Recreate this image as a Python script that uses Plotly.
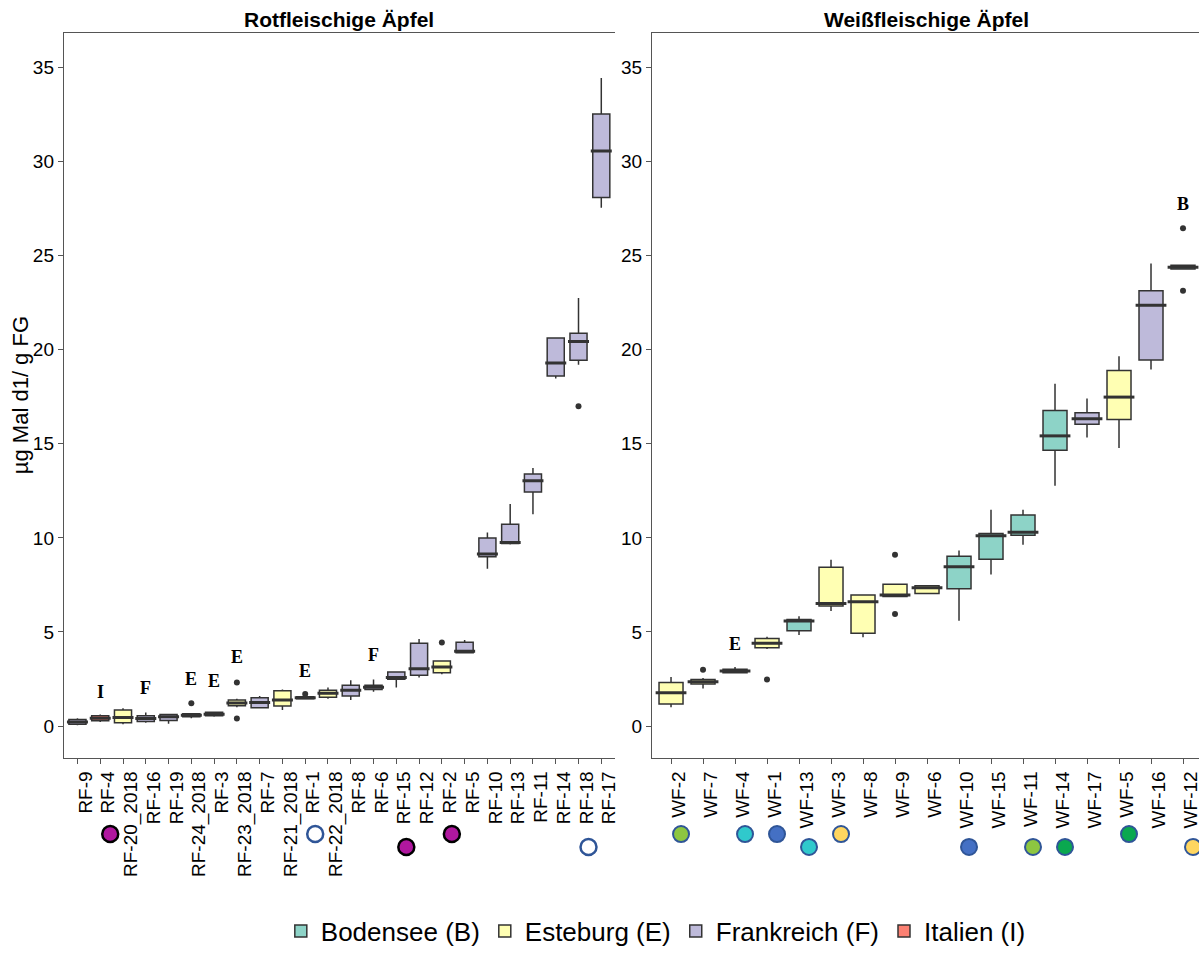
import plotly.graph_objects as go

# ---------------- data ----------------
rf_cats = ["RF-9", "RF-4", "RF-20_2018", "RF-16", "RF-19", "RF-24_2018", "RF-3", "RF-23_2018",
           "RF-7", "RF-21_2018", "RF-1", "RF-22_2018", "RF-8", "RF-6", "RF-15", "RF-12", "RF-2",
           "RF-5", "RF-10", "RF-13", "RF-11", "RF-14", "RF-18", "RF-17"]
rf_group = ["F", "I", "E", "F", "F", "E", "E", "E", "F", "E", "E", "E", "F", "F", "F", "F", "E",
            "F", "F", "F", "F", "F", "F", "F"]
rf_low = [0.05, 0.22, 0.10, 0.18, 0.12, 0.42, 0.50, 1.00, 0.95, 0.86, 1.42, 1.45, 1.38, 1.82,
          2.05, 2.58, 2.75, 3.88, 8.36, 9.65, 11.26, 18.47, 19.20, 27.54]
rf_q1 = [0.10, 0.28, 0.18, 0.25, 0.30, 0.50, 0.55, 1.08, 0.98, 1.07, 1.45, 1.53, 1.60, 1.95,
         2.49, 2.70, 2.84, 3.90, 9.00, 9.70, 12.44, 18.60, 19.44, 28.08]
rf_med = [0.22, 0.42, 0.45, 0.40, 0.50, 0.58, 0.63, 1.23, 1.25, 1.38, 1.50, 1.74, 1.91, 2.07,
          2.58, 3.05, 3.14, 3.98, 9.14, 9.76, 13.04, 19.29, 20.43, 30.56]
rf_q3 = [0.35, 0.55, 0.85, 0.55, 0.62, 0.65, 0.73, 1.38, 1.50, 1.88, 1.56, 1.91, 2.17, 2.17,
         2.88, 4.40, 3.46, 4.46, 9.99, 10.72, 13.40, 20.62, 20.87, 32.52]
rf_high = [0.42, 0.62, 0.95, 0.72, 0.65, 0.68, 0.75, 1.45, 1.60, 1.95, 1.58, 2.05, 2.44, 2.47,
           2.92, 4.63, 3.50, 4.58, 10.28, 11.80, 13.71, 20.65, 22.74, 34.43]
rf_out_cat = ["RF-24_2018", "RF-23_2018", "RF-23_2018", "RF-1", "RF-2", "RF-18"]
rf_out_val = [1.21, 2.32, 0.40, 1.70, 4.44, 16.99]

wf_cats = ["WF-2", "WF-7", "WF-4", "WF-1", "WF-13", "WF-3", "WF-8", "WF-9", "WF-6", "WF-10",
           "WF-15", "WF-11", "WF-14", "WF-17", "WF-5", "WF-16", "WF-12"]
wf_group = ["E", "E", "E", "E", "B", "E", "E", "E", "E", "B", "B", "B", "B", "F", "E", "F", "B"]
wf_low = [1.00, 2.00, 2.80, 4.10, 4.84, 6.12, 4.72, 6.88, 7.00, 5.60, 8.05, 9.63, 12.77, 15.33,
          14.78, 18.95, 24.28]
wf_q1 = [1.17, 2.23, 2.83, 4.16, 5.07, 6.38, 4.93, 6.88, 7.05, 7.30, 8.86, 10.14, 14.65, 16.04,
         16.29, 19.45, 24.28]
wf_med = [1.77, 2.35, 2.93, 4.40, 5.58, 6.51, 6.60, 6.96, 7.35, 8.46, 10.12, 10.30, 15.42, 16.33,
          17.48, 22.36, 24.38]
wf_q3 = [2.32, 2.47, 3.02, 4.65, 5.67, 8.44, 6.96, 7.53, 7.46, 9.02, 10.23, 11.21, 16.77, 16.65,
         18.89, 23.13, 24.48]
wf_high = [2.61, 2.55, 3.14, 4.75, 5.84, 8.84, 7.00, 7.53, 7.50, 9.33, 11.49, 11.49, 18.19, 17.40,
           19.65, 24.58, 24.48]
wf_out_cat = ["WF-7", "WF-1", "WF-9", "WF-9", "WF-12", "WF-12"]
wf_out_val = [3.00, 2.47, 9.10, 5.95, 26.45, 23.13]

# letters above boxes
rf_letter_cat = ["RF-4", "RF-16", "RF-24_2018", "RF-3", "RF-23_2018", "RF-1", "RF-6"]
rf_letter_txt = ["I", "F", "E", "E", "E", "E", "F"]
rf_letter_val = [1.80, 2.00, 2.50, 2.40, 3.65, 2.95, 3.80]
wf_letter_cat = ["WF-4", "WF-12"]
wf_letter_txt = ["E", "B"]
wf_letter_val = [4.38, 27.75]

# circle markers below labels
rf_dot_cat = ["RF-4", "RF-1", "RF-15", "RF-2", "RF-18"]
rf_dot_fill = ["#B0179F", "#FFFFFF", "#B0179F", "#B0179F", "#FFFFFF"]
rf_dot_edge = ["#000000", "#2F5597", "#000000", "#000000", "#2F5597"]
wf_dot_cat = ["WF-2", "WF-4", "WF-1", "WF-13", "WF-3", "WF-10", "WF-11", "WF-14", "WF-5", "WF-12"]
wf_dot_fill = ["#8DC641", "#30C9CC", "#4470C4", "#30C9CC", "#FFD660", "#4470C4", "#8DC641",
               "#0AA84F", "#0AA84F", "#FFD660"]

group_names = {"B": "Bodensee (B)", "E": "Esteburg (E)", "F": "Frankreich (F)", "I": "Italien (I)"}
group_colors = {"B": "#8DD3C7", "E": "#FFFFB3", "F": "#BEBADA", "I": "#FB8072"}

# ---------------- figure ----------------
W, H = 1203, 955
fig = go.Figure()
LINE = "#333333"
FONT = "Liberation Sans, Arial, sans-serif"

panels = [
    ("x", "y", rf_cats, rf_group, rf_low, rf_q1, rf_med, rf_q3, rf_high, rf_out_cat, rf_out_val, 15),
    ("x2", "y2", wf_cats, wf_group, wf_low, wf_q1, wf_med, wf_q3, wf_high, wf_out_cat, wf_out_val, 22),
]
shown = set()
rank = {"B": 1, "E": 2, "F": 3, "I": 4}
for xa, ya, cats, grp, lo, q1, md, q3, hi, oc, ov, bw in panels:
    for g in ["B", "E", "F", "I"]:
        idx = [i for i, gg in enumerate(grp) if gg == g]
        if not idx:
            continue
        fig.add_trace(go.Box(
            x=[cats[i] for i in idx],
            q1=[q1[i] for i in idx], median=[md[i] for i in idx], q3=[q3[i] for i in idx],
            lowerfence=[lo[i] for i in idx], upperfence=[hi[i] for i in idx],
            fillcolor=group_colors[g], line=dict(color=LINE, width=1.5),
            width=0.75, whiskerwidth=0, boxpoints=False,
            name=group_names[g], legendgroup=g, legendrank=rank[g],
            showlegend=(g not in shown), xaxis=xa, yaxis=ya,
        ))
        shown.add(g)
    # thick medians
    fig.add_trace(go.Scatter(
        x=cats, y=md, mode="markers", xaxis=xa, yaxis=ya, showlegend=False, hoverinfo="skip",
        marker=dict(symbol="line-ew", size=bw, color=LINE, line=dict(color=LINE, width=3)),
    ))
    # outliers
    fig.add_trace(go.Scatter(
        x=oc, y=ov, mode="markers", xaxis=xa, yaxis=ya, showlegend=False,
        marker=dict(size=6, color=LINE),
    ))

# letters
SERIF = "Liberation Serif, Times New Roman, serif"
for cat, txt, val in zip(rf_letter_cat, rf_letter_txt, rf_letter_val):
    fig.add_annotation(x=cat, y=val, xref="x", yref="y", text="<b>%s</b>" % txt, showarrow=False,
                       font=dict(family=SERIF, size=18, color="black"))
for cat, txt, val in zip(wf_letter_cat, wf_letter_txt, wf_letter_val):
    fig.add_annotation(x=cat, y=val, xref="x2", yref="y2", text="<b>%s</b>" % txt, showarrow=False,
                       font=dict(family=SERIF, size=18, color="black"))

# circles under tick labels
def label_px(lbl):
    return 790 + 13 * len(lbl)

for cat, f, e in zip(rf_dot_cat, rf_dot_fill, rf_dot_edge):
    fig.add_shape(type="circle", xref="x", yref="paper", xsizemode="pixel", ysizemode="pixel",
                  xanchor=cat, x0=2, x1=18, yanchor=1 - label_px(cat) / H, y0=-8, y1=8,
                  fillcolor=f, line=dict(color=e, width=2.5), layer="above")
for cat, f in zip(wf_dot_cat, wf_dot_fill):
    fig.add_shape(type="circle", xref="x2", yref="paper", xsizemode="pixel", ysizemode="pixel",
                  xanchor=cat, x0=2, x1=18, yanchor=1 - label_px(cat) / H, y0=-8, y1=8,
                  fillcolor=f, line=dict(color="#2F5597", width=2), layer="above")

# axes
ydom = [1 - 765 / H, 1 - 33 / H]
yrange = [-32 / 19, 700 / 19]
axcommon = dict(showgrid=False, zeroline=False, showline=True, linecolor="#555555", linewidth=1,
                ticks="outside", ticklen=5, tickcolor="#555555",
                tickfont=dict(family=FONT, size=19, color="black"))
fig.update_layout(
    xaxis=dict(domain=[64 / W, 617 / W], type="category", categoryorder="array",
               categoryarray=rf_cats, tickmode="array", tickvals=rf_cats, ticktext=rf_cats,
               range=[-0.6, 23.6], mirror=True, tickangle=-90,
               ticklabelshift=8, anchor="y", **axcommon),
    yaxis=dict(domain=ydom, range=yrange, tick0=0, dtick=5, anchor="x", **axcommon),
    xaxis2=dict(domain=[654 / W, 1.0], type="category", categoryorder="array",
                categoryarray=wf_cats, tickmode="array", tickvals=wf_cats, ticktext=wf_cats,
                range=[-0.6, 16.5], mirror=True, tickangle=-90,
                ticklabelshift=8, anchor="y2", **axcommon),
    yaxis2=dict(domain=ydom, range=yrange, tick0=0, dtick=5, anchor="x2", **axcommon),
)

fig.add_annotation(x=(64 + 617) / 2 / W, y=1 - 20 / H, xref="paper", yref="paper",
                   xanchor="center", yanchor="middle",
                   text="<b>Rotfleischige Äpfel</b>", showarrow=False,
                   font=dict(family=FONT, size=21, color="black"))
fig.add_annotation(x=(654 + 1206) / 2 / W, y=1 - 20 / H, xref="paper", yref="paper",
                   xanchor="center", yanchor="middle",
                   text="<b>Weißfleischige Äpfel</b>", showarrow=False,
                   font=dict(family=FONT, size=21, color="black"))
fig.add_annotation(x=20 / W, y=1 - 399 / H, xref="paper", yref="paper", textangle=-90,
                   xanchor="center", yanchor="middle",
                   text="µg Mal d1/ g FG", showarrow=False,
                   font=dict(family=FONT, size=22, color="black"))

fig.update_layout(
    width=W, height=H, margin=dict(l=0, r=0, t=0, b=0),
    paper_bgcolor="white", plot_bgcolor="white", boxmode="overlay",
    legend=dict(orientation="h", x=658 / W, xanchor="center", y=1 - 940 / H, yanchor="middle",
                font=dict(family=FONT, size=26, color="black"), traceorder="normal"),
)

fig.write_html("out.html")
